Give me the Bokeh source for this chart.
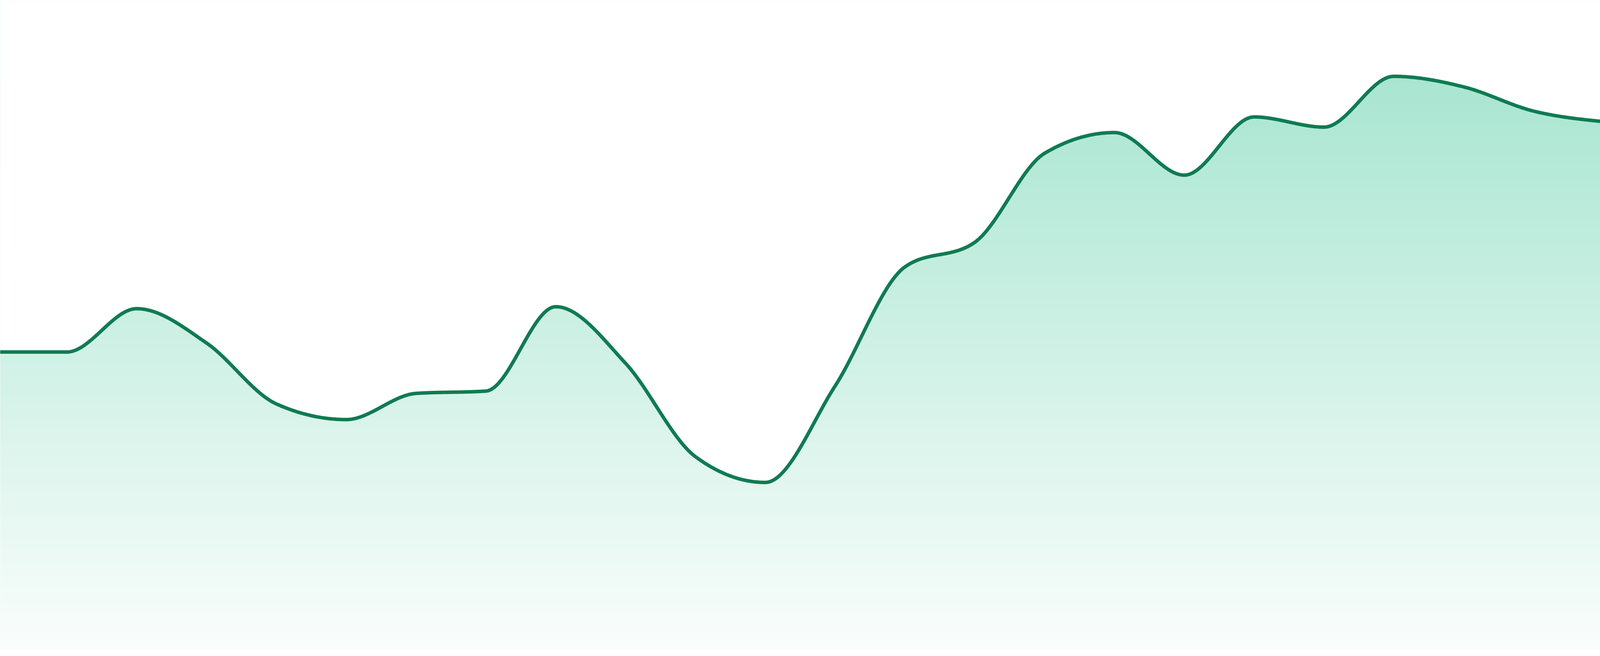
import numpy as np
from bokeh.plotting import figure
from bokeh.models import Range1d
from bokeh.embed import file_html
from bokeh.resources import INLINE

# data, one value per step
steps = list(range(24))
values = [76.1, 76.1, 87.2, 78.4, 62.8, 58.8, 65.5, 66.1, 87.7, 73.2, 49.3, 42.7,
          67.4, 97.9, 104.2, 127.0, 132.3, 121.4, 136.3, 133.7, 146.7, 144.0, 137.8, 135.1]

line_color = "#107b52"
fill_base = (16, 185, 129)

H = 1664
pad = 0.045       # page margin, in steps
x0, x1 = pad, 23 - pad
y1 = (1670 - 8) / 10
y0 = y1 - H / 10


def monotone_curve(xs, ys, n=60):
    # monotone cubic (same rule as d3 curveMonotoneX)
    xs = np.asarray(xs, float)
    ys = np.asarray(ys, float)
    m = len(xs)
    t = np.zeros(m)
    for i in range(1, m - 1):
        h0 = xs[i] - xs[i - 1]
        h1 = xs[i + 1] - xs[i]
        s0 = (ys[i] - ys[i - 1]) / h0
        s1 = (ys[i + 1] - ys[i]) / h1
        p = (s0 * h1 + s1 * h0) / (h0 + h1)
        sg = (-1 if s0 < 0 else 1) + (-1 if s1 < 0 else 1)
        t[i] = sg * min(abs(s0), abs(s1), 0.5 * abs(p))
    t[0] = (3 * (ys[1] - ys[0]) / (xs[1] - xs[0]) - t[1]) / 2
    t[-1] = (3 * (ys[-1] - ys[-2]) / (xs[-1] - xs[-2]) - t[-2]) / 2
    cx, cy = [], []
    u = np.linspace(0, 1, n)
    for i in range(m - 1):
        dx = (xs[i + 1] - xs[i]) / 3
        P = [(xs[i], ys[i]), (xs[i] + dx, ys[i] + dx * t[i]),
             (xs[i + 1] - dx, ys[i + 1] - dx * t[i + 1]), (xs[i + 1], ys[i + 1])]
        b = [(1 - u) ** 3, 3 * u * (1 - u) ** 2, 3 * u ** 2 * (1 - u), u ** 3]
        sx = sum(b[j] * P[j][0] for j in range(4))
        sy = sum(b[j] * P[j][1] for j in range(4))
        if i > 0:
            sx, sy = sx[1:], sy[1:]
        cx.extend(sx)
        cy.extend(sy)
    return np.array(cx), np.array(cy)


cx, cy = monotone_curve(steps, values)

p = figure(height=H, sizing_mode="stretch_width", x_range=Range1d(x0, x1), y_range=Range1d(y0, y1),
           toolbar_location=None, output_backend="svg", min_border=0)
p.axis.visible = False
p.grid.visible = False
p.outline_line_color = None
p.background_fill_color = "white"
p.border_fill_color = "white"

# vertical gradient under the curve
top = max(values)
rows = 800
gy = np.linspace(0, y1, rows)
alpha = 0.02 + (0.36 - 0.02) * np.clip(gy / top, 0, None)
img = np.zeros((rows, 2), dtype=np.uint32)
view = img.view(dtype=np.uint8).reshape((rows, 2, 4))
for c in range(3):
    view[:, :, c] = np.clip(255 - alpha * (255 - fill_base[c]), 0, 255)[:, None].astype(np.uint8)
view[:, :, 3] = 255
p.image_rgba(image=[img], x=x0 - 1, y=0, dw=x1 - x0 + 2, dh=y1, level="image")

# white above the curve
p.varea(x=cx, y1=cy, y2=y1 + 5, fill_color="white")
p.line(cx, cy, line_color=line_color, line_width=9, line_join="round", line_cap="round")

open("out.html", "w").write(file_html(p, INLINE))
